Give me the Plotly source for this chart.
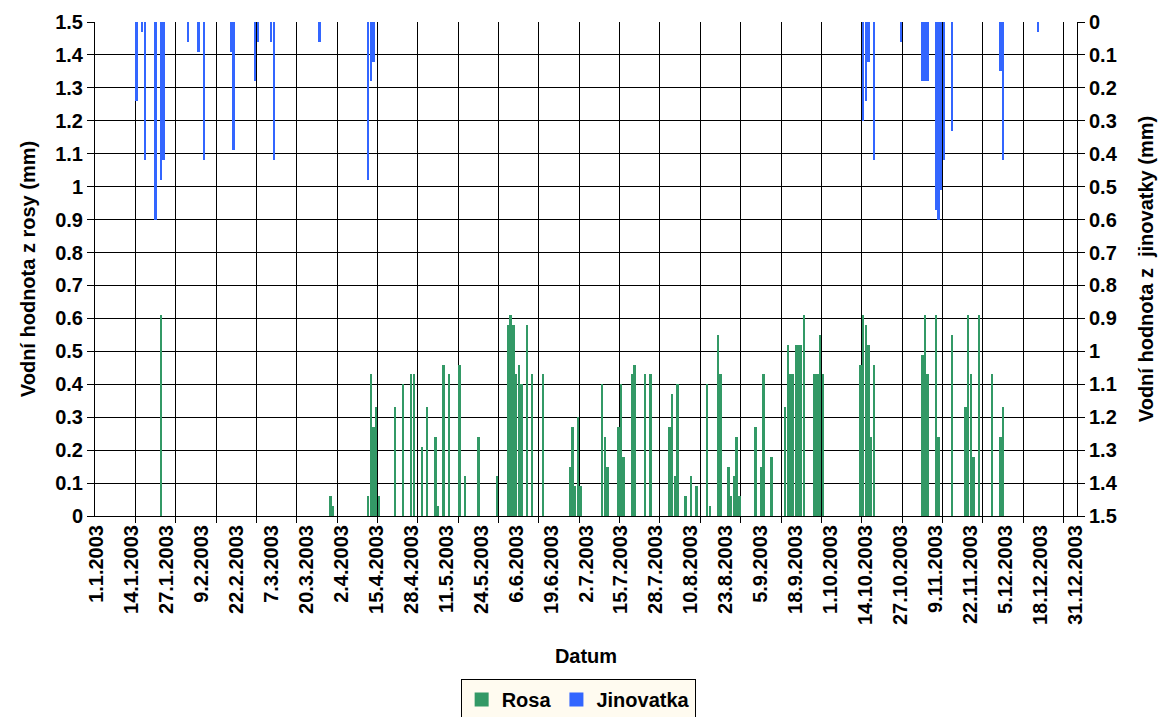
import plotly.graph_objects as go
import pandas as pd

# ---- data ----
tick_labels = ["1.1.2003", "14.1.2003", "27.1.2003", "9.2.2003", "22.2.2003", "7.3.2003",
               "20.3.2003", "2.4.2003", "15.4.2003", "28.4.2003", "11.5.2003", "24.5.2003",
               "6.6.2003", "19.6.2003", "2.7.2003", "15.7.2003", "28.7.2003", "10.8.2003",
               "23.8.2003", "5.9.2003", "18.9.2003", "1.10.2003", "14.10.2003", "27.10.2003",
               "9.11.2003", "22.11.2003", "5.12.2003", "18.12.2003", "31.12.2003"]

rosa_dates = ["2003-01-25", "2003-03-29", "2003-03-30", "2003-04-12", "2003-04-13", "2003-04-14",
              "2003-04-15", "2003-04-16", "2003-04-22", "2003-04-25", "2003-04-28", "2003-04-29",
              "2003-05-02", "2003-05-04", "2003-05-07", "2003-05-08", "2003-05-10", "2003-05-12",
              "2003-05-16", "2003-05-18", "2003-05-23", "2003-05-30", "2003-06-03", "2003-06-04",
              "2003-06-05", "2003-06-06", "2003-06-07", "2003-06-08", "2003-06-10", "2003-06-12",
              "2003-06-16", "2003-06-26", "2003-06-27", "2003-06-28", "2003-06-29", "2003-06-30",
              "2003-07-08", "2003-07-09", "2003-07-10", "2003-07-14", "2003-07-15", "2003-07-16",
              "2003-07-19", "2003-07-20", "2003-07-24", "2003-07-26", "2003-08-02", "2003-08-03",
              "2003-08-04", "2003-08-05", "2003-08-08", "2003-08-10", "2003-08-12", "2003-08-16",
              "2003-08-17", "2003-08-20", "2003-08-21", "2003-08-24", "2003-08-25", "2003-08-26",
              "2003-08-27", "2003-08-28", "2003-09-03", "2003-09-05", "2003-09-06", "2003-09-09",
              "2003-09-14", "2003-09-15", "2003-09-16", "2003-09-17", "2003-09-18", "2003-09-19",
              "2003-09-20", "2003-09-21", "2003-09-25", "2003-09-26", "2003-09-27", "2003-09-28",
              "2003-10-12", "2003-10-13", "2003-10-14", "2003-10-15", "2003-10-16", "2003-10-17",
              "2003-11-04", "2003-11-05", "2003-11-06", "2003-11-09", "2003-11-10", "2003-11-15",
              "2003-11-20", "2003-11-21", "2003-11-22", "2003-11-23", "2003-11-25", "2003-11-30",
              "2003-12-03", "2003-12-04"]
rosa_values = [0.61, 0.06, 0.03, 0.06, 0.43, 0.27,
               0.33, 0.06, 0.33, 0.40, 0.43, 0.43,
               0.21, 0.33, 0.24, 0.03, 0.46, 0.43,
               0.46, 0.12, 0.24, 0.12, 0.58, 0.61,
               0.58, 0.43, 0.46, 0.40, 0.58, 0.43,
               0.43, 0.15, 0.27, 0.09, 0.30, 0.09,
               0.40, 0.24, 0.15, 0.27, 0.40, 0.18,
               0.43, 0.46, 0.43, 0.43, 0.27, 0.37,
               0.12, 0.40, 0.06, 0.12, 0.09, 0.40,
               0.03, 0.55, 0.43, 0.15, 0.06, 0.12,
               0.24, 0.06, 0.27, 0.15, 0.43, 0.18,
               0.33, 0.52, 0.43, 0.43, 0.52, 0.52,
               0.52, 0.61, 0.43, 0.43, 0.55, 0.43,
               0.46, 0.61, 0.58, 0.52, 0.24, 0.46,
               0.49, 0.61, 0.43, 0.61, 0.24, 0.55,
               0.33, 0.61, 0.43, 0.18, 0.61, 0.43,
               0.24, 0.33]

jinovatka_dates = ["2003-01-16", "2003-01-18", "2003-01-19", "2003-01-23", "2003-01-25", "2003-01-26",
                   "2003-02-04", "2003-02-08", "2003-02-10", "2003-02-20", "2003-02-21", "2003-03-01",
                   "2003-03-02", "2003-03-07", "2003-03-08", "2003-03-25", "2003-04-12", "2003-04-13",
                   "2003-04-14", "2003-10-13", "2003-10-14", "2003-10-15", "2003-10-17", "2003-10-27",
                   "2003-11-04", "2003-11-05", "2003-11-06", "2003-11-09", "2003-11-10", "2003-11-11",
                   "2003-11-12", "2003-11-15", "2003-12-03", "2003-12-04", "2003-12-17"]
jinovatka_values = [0.24, 0.03, 0.42, 0.60, 0.48, 0.42,
                    0.06, 0.09, 0.42, 0.09, 0.39, 0.18,
                    0.06, 0.06, 0.42, 0.06, 0.48, 0.18,
                    0.12, 0.30, 0.24, 0.12, 0.42, 0.06,
                    0.18, 0.18, 0.18, 0.57, 0.60, 0.51,
                    0.42, 0.33, 0.15, 0.42, 0.03]

# ---- helpers ----
def day_index(dates):
    return [int(pd.Timestamp(d).dayofyear) - 1 for d in dates]

tick_pos = [int(pd.to_datetime(t, format="%d.%m.%Y").dayofyear) - 1 for t in tick_labels]
n_days = 365
grid_pos = [k * 15 - 0.5 for k in range(1, 25)]

FONT = "Liberation Sans, Arial, sans-serif"
GREEN = "#339966"
BLUE = "#3366FF"
BAR_W = 0.9

def f(size):
    return dict(family=FONT, size=size, color="black", weight="bold")

fig = go.Figure()
fig.add_trace(go.Bar(x=day_index(rosa_dates), y=rosa_values, name="Rosa",
                     marker=dict(color=GREEN, line=dict(width=0)), width=BAR_W,
                     showlegend=False, xaxis="x", yaxis="y"))
fig.add_trace(go.Bar(x=day_index(jinovatka_dates), y=jinovatka_values, name="Jinovatka",
                     marker=dict(color=BLUE, line=dict(width=0)), width=BAR_W, base=0,
                     showlegend=False, xaxis="x", yaxis="y2"))
# legend entries (larger swatches)
fig.add_trace(go.Bar(x=[None], y=[None], name="Rosa", showlegend=True,
                     marker=dict(color=GREEN, line=dict(color=GREEN, width=2)),
                     xaxis="x", yaxis="y", hoverinfo="skip"))
fig.add_trace(go.Bar(x=[None], y=[None], name="Jinovatka", showlegend=True,
                     marker=dict(color=BLUE, line=dict(color=BLUE, width=2)),
                     xaxis="x", yaxis="y2", hoverinfo="skip"))
# helper trace to anchor the gridline axis
fig.add_trace(go.Scatter(x=[-0.5, n_days - 0.5], y=[0, 0], mode="lines",
                         line=dict(width=0, color="rgba(0,0,0,0)"), showlegend=False,
                         hoverinfo="skip", xaxis="x2", yaxis="y"))

fig.update_layout(
    width=1163, height=717,
    margin=dict(l=95, r=86, t=22, b=201, autoexpand=False),
    paper_bgcolor="white", plot_bgcolor="white",
    barmode="overlay",
    bargap=0,
    font=dict(family=FONT, color="black"),
    xaxis=dict(range=[-0.5, n_days - 0.5], tickmode="array", tickvals=tick_pos,
               ticktext=tick_labels, tickangle=-90, tickfont=f(20),
               showgrid=False, ticks="", showline=True, linecolor="black", linewidth=1,
               zeroline=False, automargin=False,
               title=dict(text="Datum", font=f(20), standoff=24)),
    xaxis2=dict(range=[-0.5, n_days - 0.5], overlaying="x", anchor="y", side="bottom",
                tickmode="array", tickvals=grid_pos, showticklabels=False,
                showgrid=True, gridcolor="black", gridwidth=1, automargin=False,
                ticks="outside", ticklen=6, tickcolor="black", showline=False, zeroline=False),
    yaxis=dict(range=[0, 1.5], dtick=0.1, tick0=0, showgrid=True, gridcolor="black", gridwidth=1,
               ticks="outside", ticklen=7, tickcolor="black", showline=True, linecolor="black",
               zeroline=False, tickfont=f(20), automargin=False,
               title=dict(text="Vodní hodnota z rosy (mm)", font=f(20), standoff=14)),
    yaxis2=dict(range=[1.5, 0], dtick=0.1, tick0=0, overlaying="y", side="right", anchor="x",
                showgrid=False, ticks="outside", ticklen=7, tickcolor="black", showline=True,
                linecolor="black", zeroline=False, tickfont=f(20), automargin=False,
                title=dict(text="Vodní hodnota z \u00a0jinovatky (mm)", font=f(20), standoff=22)),
    legend=dict(orientation="h", x=0.492, xanchor="center", y=-0.330, yanchor="top",
                bgcolor="#FFFBF0", bordercolor="black", borderwidth=1,
                font=f(20), itemwidth=30, tracegroupgap=0,
                traceorder="normal"),
    showlegend=True,
)

fig.write_html("out.html")
